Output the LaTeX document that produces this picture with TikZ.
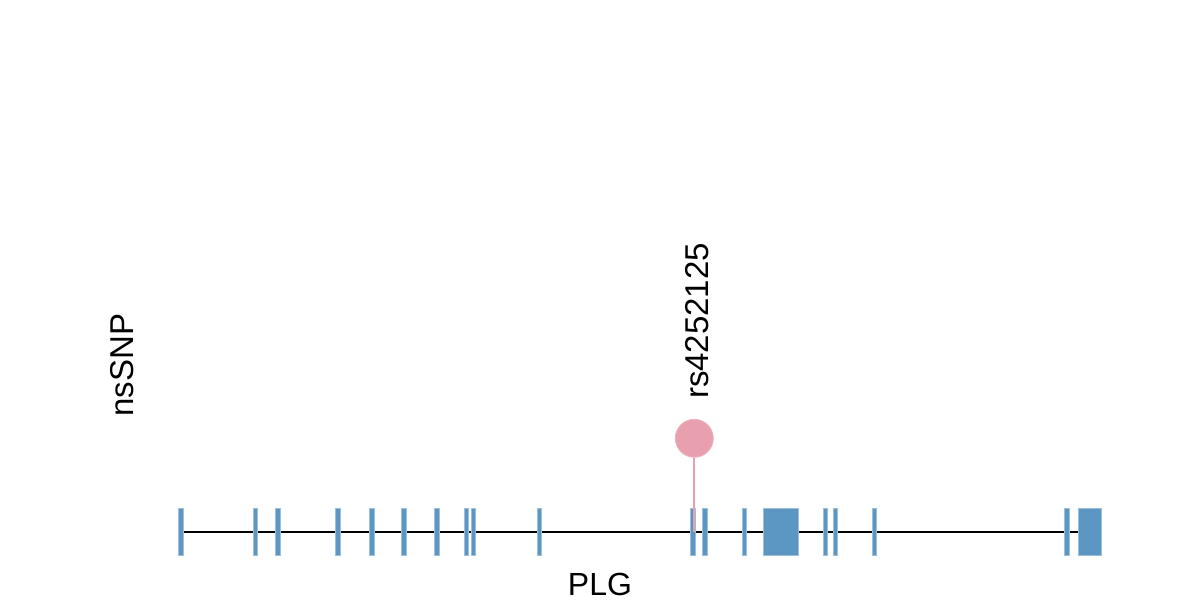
\documentclass[tikz,border=0pt]{standalone}
\usepackage{fontspec}
\setmainfont{Liberation Sans}
\definecolor{exonblue}{RGB}{92,150,194}
\definecolor{snppink}{RGB}{232,160,174}
\begin{document}
\begin{tikzpicture}[x=0.5pt,y=-0.5pt,
  exon/.style={rectangle,fill=exonblue,draw=exonblue!60,line width=0.3pt,inner sep=0pt,minimum height=23.35pt,minimum width=2.1pt},
  bigexon/.style={exon,minimum width=#1},
  lbl/.style={font=\fontsize{16.5}{19}\selectfont,inner sep=0pt},
  lolli/.style={circle,fill=snppink,draw=snppink!80!white,line width=0.4pt,inner sep=0pt,minimum size=19pt}]
\useasboundingbox (0,0) rectangle (1200,600);
\coordinate (stemend) at (694.3,531.7);
\node[lolli] (snp) at (694.3,438.3) {};
\foreach \x [count=\i] in {180.7,255,277.7,337.7,371.7,403.7,436.7,466,473,539.3,692.7,704.7,744.3,825,835,874.3,1066.7}
  \coordinate (c\i) at (\x,531.7);
\coordinate (cb1) at (780.8,531.7);
\coordinate (cb2) at (1089.7,531.7);
\draw[black,line width=1pt] (c1) -- (1078.3,531.7) coordinate (lineend);
\foreach \i in {1,...,17} \node[exon] (e\i) at (c\i) {};
\node[bigexon=17.5pt] (b1) at (cb1) {};
\node[bigexon=11.35pt] (b2) at (cb2) {};
\draw[snppink,line width=1pt] (snp.south) -- (stemend);
\node[lbl,rotate=90] (ns) at (122,365) {nsSNP};
\node[lbl,rotate=90] (rs) at (697,321) {rs4252125};
\node[lbl,font=\fontsize{16}{19}\selectfont] (gene) at (600,584) {PLG};
\end{tikzpicture}
\end{document}
